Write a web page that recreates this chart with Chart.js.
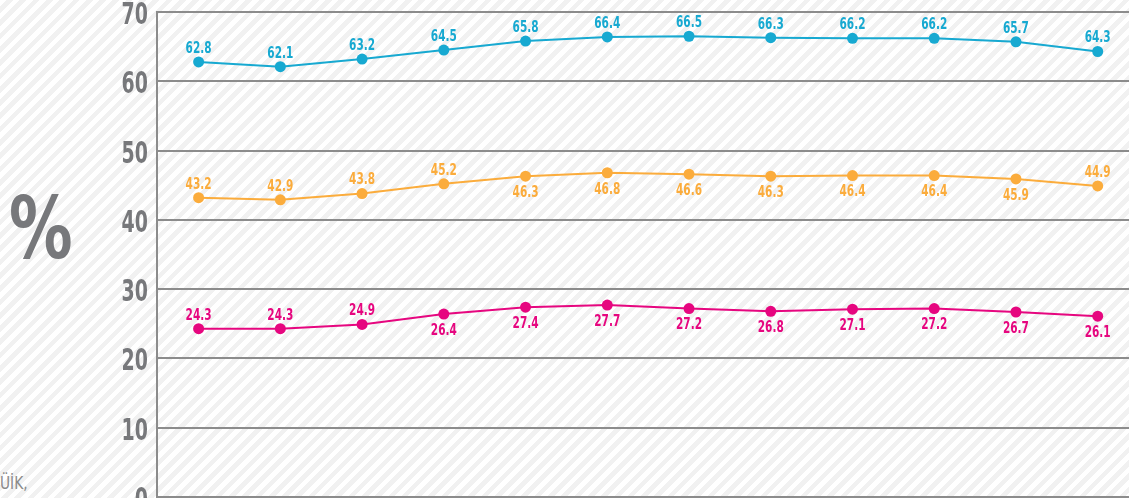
<!DOCTYPE html>
<html>
<head>
<meta charset="utf-8">
<script src="https://cdn.jsdelivr.net/npm/chart.js@4/dist/chart.umd.min.js"></script>
<style>
    html, body {
        margin: 0;
        padding: 0;
        width: 1129px;
        height: 498px;
        overflow: hidden;
        background: repeating-linear-gradient(135deg, #ffffff 0 4.7px, #f1f1f1 4.7px 9.4px);
        font-family: "DejaVu Sans Condensed", sans-serif;
    }
    #wrap {
        position: absolute;
        left: 0;
        top: -30px;
        width: 1129px;
        height: 560px;
    }
    #pct {
        position: absolute;
        left: 9px;
        top: 185px;
        font-size: 86px;
        font-weight: bold;
        color: #77787b;
        line-height: 1;
        transform: scaleX(0.82);
        transform-origin: left top;
    }
    #src {
        position: absolute;
        left: 0;
        top: 474px;
        font-size: 18px;
        color: #8a8a8a;
        line-height: 1;
        transform: scaleX(0.85);
        transform-origin: left top;
    }
</style>
</head>
<body>
<div id="pct">%</div>
<div id="src">ÜİK,</div>
<div id="wrap"><canvas id="lineChart"></canvas></div>

<script>
// periods (x labels are cropped out of the picture)
const periods = [1, 2, 3, 4, 5, 6, 7, 8, 9, 10, 11, 12];

const blueValues = [62.8, 62.1, 63.2, 64.5, 65.8, 66.4, 66.5, 66.3, 66.2, 66.2, 65.7, 64.3];
const orangeValues = [43.2, 42.9, 43.8, 45.2, 46.3, 46.8, 46.6, 46.3, 46.4, 46.4, 45.9, 44.9];
const pinkValues = [24.3, 24.3, 24.9, 26.4, 27.4, 27.7, 27.2, 26.8, 27.1, 27.2, 26.7, 26.1];

const yTicks = [0, 10, 20, 30, 40, 50, 60, 70];

const FONT = '"DejaVu Sans Condensed", sans-serif';
const GRID = '#8c8c8c';

// where each value label sits relative to its point
const labelSide = [
    Array(12).fill('above'),
    ['above', 'above', 'above', 'above', 'below', 'below', 'below', 'below', 'below', 'below', 'below', 'above'],
    ['above', 'above', 'above', 'below', 'below', 'below', 'below', 'below', 'below', 'below', 'below', 'below']
];

// draw text squeezed horizontally, the original uses a narrow typeface
function narrowText(ctx, text, x, y, squeeze) {
    ctx.save();
    ctx.translate(x, y);
    ctx.scale(squeeze, 1);
    ctx.fillText(text, 0, 0);
    ctx.restore();
}

const valueLabels = {
    id: 'valueLabels',
    afterDatasetsDraw(chart) {
        const ctx = chart.ctx;
        ctx.save();
        ctx.font = 'bold 15px ' + FONT;
        ctx.textAlign = 'center';
        ctx.textBaseline = 'middle';
        chart.data.datasets.forEach((ds, di) => {
            const meta = chart.getDatasetMeta(di);
            ctx.fillStyle = ds.borderColor;
            meta.data.forEach((pt, i) => {
                const dy = labelSide[di][i] === 'above' ? -13 : 17;
                narrowText(ctx, ds.data[i].y.toFixed(1), pt.x, pt.y + dy, 0.78);
            });
        });
        ctx.restore();
    }
};

const yLabels = {
    id: 'yLabels',
    afterDraw(chart) {
        const ctx = chart.ctx;
        const y = chart.scales.y;
        ctx.save();
        ctx.font = 'bold 31px ' + FONT;
        ctx.fillStyle = '#77787b';
        ctx.textAlign = 'right';
        ctx.textBaseline = 'middle';
        yTicks.forEach(v => {
            narrowText(ctx, String(v), y.right - 9, y.getPixelForValue(v) + 4, 0.68);
        });
        ctx.restore();
    }
};

function series(values) {
    return values.map((v, i) => ({ x: i, y: v }));
}

function lineSet(label, values, color) {
    return {
        label: label,
        data: series(values),
        borderColor: color,
        backgroundColor: color,
        pointBackgroundColor: color,
        pointBorderWidth: 0,
        pointRadius: 5.5,
        borderWidth: 2,
        tension: 0
    };
}

const ctx = document.getElementById('lineChart').getContext('2d');
new Chart(ctx, {
    type: 'line',
    data: {
        labels: periods,
        datasets: [
            lineSet('blue', blueValues, '#17a9d1'),
            lineSet('orange', orangeValues, '#fbac3c'),
            lineSet('pink', pinkValues, '#e6067f')
        ]
    },
    options: {
        responsive: true,
        maintainAspectRatio: false,
        animation: false,
        layout: {
            autoPadding: false,
            padding: { top: 42, right: 0, bottom: 33, left: 0 }
        },
        plugins: {
            legend: { display: false },
            tooltip: { enabled: false }
        },
        scales: {
            x: {
                type: 'linear',
                display: false,
                min: -0.509,
                max: 11.383
            },
            y: {
                min: 0,
                max: 70,
                afterFit(scale) { scale.width = 157; },
                afterBuildTicks(scale) { scale.ticks = yTicks.map(v => ({ value: v })); },
                grid: {
                    color: GRID,
                    lineWidth: 2,
                    drawTicks: false
                },
                border: {
                    display: true,
                    color: GRID,
                    width: 2
                },
                ticks: { display: false }
            }
        }
    },
    plugins: [valueLabels, yLabels]
});
</script>
</body>
</html>
